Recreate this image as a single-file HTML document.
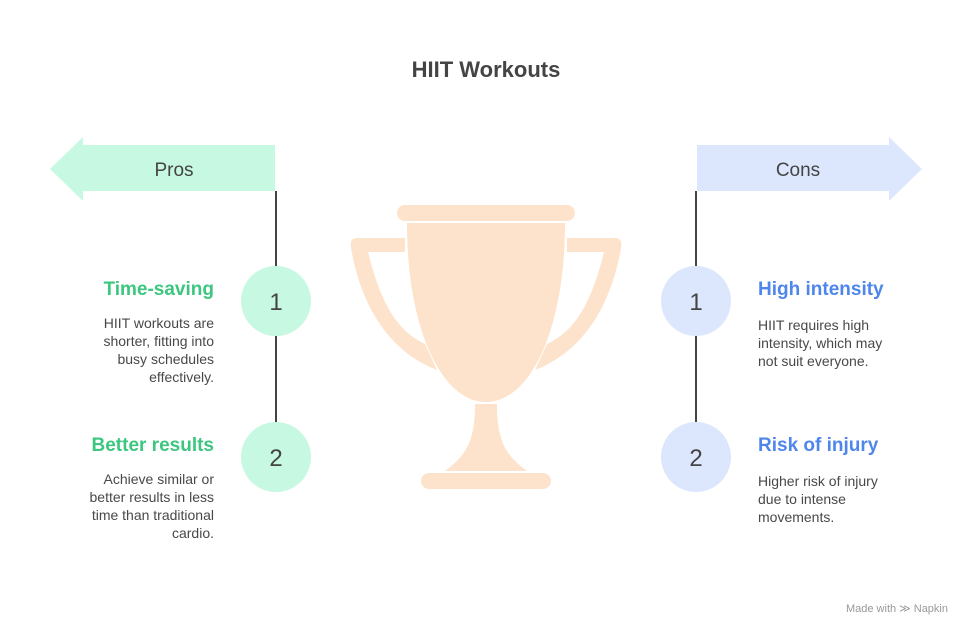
<!DOCTYPE html><html><head><style>
body{margin:0;background:#fff;width:972px;height:636px;position:relative;overflow:hidden;font-family:"Liberation Sans",sans-serif;color:#484848}
.a{position:absolute}
.h{font-weight:bold;font-size:19px}
.p{font-size:14px;line-height:18px;white-space:nowrap}
.r{text-align:right}
</style></head><body>
<svg class="a" style="left:0;top:0" width="972" height="636">
<polygon points="50,169 83,137 83,145 275,145 275,191 83,191 83,201" fill="#c7f8e2"/>
<polygon points="922,169 889,137 889,145 697,145 697,191 889,191 889,201" fill="#dce7fe"/>
<line x1="276" y1="191" x2="276" y2="490" stroke="#444" stroke-width="2"/>
<line x1="696" y1="191" x2="696" y2="490" stroke="#444" stroke-width="2"/>
<circle cx="276" cy="301" r="35" fill="#c7f8e2"/><circle cx="276" cy="457" r="35" fill="#c7f8e2"/>
<circle cx="696" cy="301" r="35" fill="#dce7fe"/><circle cx="696" cy="457" r="35" fill="#dce7fe"/>
<g fill="#fde3cb">
<rect x="397" y="205" width="178" height="16" rx="8"/>
<path d="M407,223 H565 C565,330 530,402 486,402 C442,402 407,330 407,223 Z"/>
<path d="M405,238 H357 C351,238 350,242 351,248 C360,300 385,350 437,370 L425,344 C395,330 380,300 368,252 H405 Z"/>
<path d="M567,238 H615 C621,238 622,242 621,248 C612,300 587,350 535,370 L547,344 C577,330 592,300 604,252 H567 Z"/>
<path d="M475,404 H497 C497,440 505,455 527,471 H445 C467,455 475,440 475,404 Z"/>
<rect x="421" y="473" width="130" height="16" rx="8"/>
</g>
<text x="486" y="77" text-anchor="middle" font-size="22" font-weight="bold" fill="#444" font-family="Liberation Sans">HIIT Workouts</text>
<text x="174" y="176" text-anchor="middle" font-size="19" fill="#444" font-family="Liberation Sans">Pros</text>
<text x="798" y="176" text-anchor="middle" font-size="19" fill="#444" font-family="Liberation Sans">Cons</text>
<g font-size="24" fill="#444" text-anchor="middle" font-family="Liberation Sans">
<text x="276" y="310">1</text><text x="276" y="466">2</text><text x="696" y="310">1</text><text x="696" y="466">2</text></g>
<text x="948" y="612" text-anchor="end" font-size="11" fill="#999" font-family="Liberation Sans">Made with ≫ Napkin</text>
</svg>
<div class="a h r" style="left:40px;width:174px;top:279px;color:#3cc680">Time-saving</div>
<div class="a p r" style="left:40px;width:174px;top:314px">HIIT workouts are<br>shorter, fitting into<br>busy schedules<br>effectively.</div>
<div class="a h r" style="left:40px;width:174px;top:435px;color:#3cc680">Better results</div>
<div class="a p r" style="left:40px;width:174px;top:470px">Achieve similar or<br>better results in less<br>time than traditional<br>cardio.</div>
<div class="a h" style="left:758px;top:279px;color:#4e86ec">High intensity</div>
<div class="a p" style="left:758px;top:316px">HIIT requires high<br>intensity, which may<br>not suit everyone.</div>
<div class="a h" style="left:758px;top:435px;color:#4e86ec">Risk of injury</div>
<div class="a p" style="left:758px;top:472px">Higher risk of injury<br>due to intense<br>movements.</div>
</body></html>
